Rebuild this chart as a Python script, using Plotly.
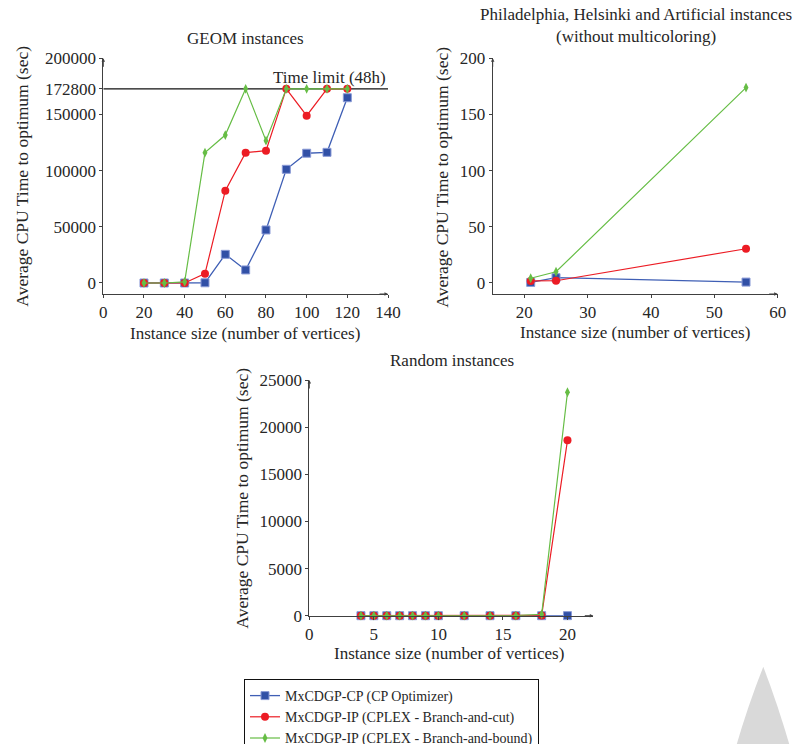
import plotly.graph_objects as go

# ---------------- data ----------------
geom_x = [20, 30, 40, 50, 60, 70, 80, 90, 100, 110, 120]
geom_cp = [0, 0, 0, 200, 25500, 11600, 47200, 101200, 115500, 116300, 164900]
geom_bc = [0, 0, 0, 8300, 82200, 116000, 117800, 172800, 148900, 172800, 172800]
geom_bb = [0, 0, 1000, 116000, 131700, 172800, 126700, 172800, 172800, 172800, 172800]

phil_x = [21, 25, 55]
phil_cp = [0.5, 4.7, 0.8]
phil_bc = [1.8, 2.0, 30.5]
phil_bb = [4.2, 10.0, 173.9]

rand_x = [4, 5, 6, 7, 8, 9, 10, 12, 14, 16, 18, 20]
rand_cp = [0, 0, 0, 0, 0, 0, 0, 0, 0, 0, 0, 5]
rand_bc = [0, 0, 0, 0, 0, 0, 0, 0, 0, 0, 30, 18600]
rand_bb = [0, 0, 0, 0, 0, 0, 0, 0, 0, 0, 150, 23700]

time_limit = 172800

series_names = [
    "MxCDGP-CP (CP Optimizer)",
    "MxCDGP-IP (CPLEX - Branch-and-cut)",
    "MxCDGP-IP (CPLEX - Branch-and-bound)",
]

geom_yticks = [0, 50000, 100000, 150000, 172800, 200000]
geom_xticks = [0, 20, 40, 60, 80, 100, 120, 140]
phil_yticks = [0, 50, 100, 150, 200]
phil_xticks = [20, 30, 40, 50, 60]
rand_yticks = [0, 5000, 10000, 15000, 20000, 25000]
rand_xticks = [0, 5, 10, 15, 20]

# ---------------- styles ----------------
# figure is a bit taller than the 744px window so the legend can run past the
# bottom edge (as in the reference) without plotly pushing the margins
W, H = 797, 768
FONT = ("'Liberation Serif', 'DejaVu Serif', Tinos, 'Noto Serif', 'Times New Roman', "
        "FreeSerif, 'Nimbus Roman', serif")
TXT = "#262626"
AX = "#404040"
styles = [
    dict(line=dict(color="#3f5fb5", width=1.3),
         marker=dict(symbol="square", size=8, color="#3150a6",
                     line=dict(color="#8a9ad6", width=1))),
    dict(line=dict(color="#ec1c24", width=1.2),
         marker=dict(symbol="circle", size=8, color="#ec1c24",
                     line=dict(color="#ec1c24", width=0))),
    dict(line=dict(color="#66bd45", width=1.2),
         marker=dict(symbol="diamond-tall", size=7, color="#66bd45",
                     line=dict(color="#66bd45", width=0))),
]


def px(x):
    return x / W


def py(y):
    return 1 - y / H


fig = go.Figure()

panels = [
    ("x", "y", geom_x, [geom_cp, geom_bc, geom_bb], True),
    ("x2", "y2", phil_x, [phil_cp, phil_bc, phil_bb], False),
    ("x3", "y3", rand_x, [rand_cp, rand_bc, rand_bb], False),
]
for xa, ya, xs, ys_list, show in panels:
    for i, ys in enumerate(ys_list):
        st = styles[i]
        fig.add_trace(go.Scatter(
            x=xs, y=ys, mode="lines+markers", name=series_names[i],
            legendgroup=series_names[i], showlegend=show,
            line=st["line"], marker=st["marker"], cliponaxis=False,
            xaxis=xa, yaxis=ya,
        ))

axis_common = dict(
    showgrid=False, zeroline=False, showline=True, linecolor=AX, linewidth=1,
    ticks="outside", ticklen=3, tickcolor=AX, tickwidth=1,
    tickfont=dict(family=FONT, size=17, color=TXT), automargin=False,
)

gx_dom = [px(103.3), px(388)]
py_dom = [py(294), py(58.3)]
fig.update_layout(
    xaxis=dict(domain=gx_dom, range=[0, 140], tickvals=geom_xticks,
               anchor="y", **axis_common),
    yaxis=dict(domain=py_dom, range=[-9800, 200000], tickvals=geom_yticks,
               ticktext=[str(v) for v in geom_yticks], anchor="x", **axis_common),
    xaxis2=dict(domain=[px(492.7), px(777.7)], range=[15, 60], tickvals=phil_xticks,
                anchor="y2", **axis_common),
    yaxis2=dict(domain=py_dom, range=[-9.8, 200], tickvals=phil_yticks,
                anchor="x2", **axis_common),
    xaxis3=dict(domain=[px(309.3), px(593.3)], range=[0, 22], tickvals=rand_xticks,
                anchor="y3", **axis_common),
    yaxis3=dict(domain=[py(615.7), py(380)], range=[0, 25000], tickvals=rand_yticks,
                ticktext=[str(v) for v in rand_yticks], anchor="x3", **axis_common),
)

ann = []
# axis arrows
for xa, ya, xr, yr in [("x", "y", [0, 140], [-9800, 200000]),
                       ("x2", "y2", [15, 60], [-9.8, 200]),
                       ("x3", "y3", [0, 22], [0, 25000])]:
    ann.append(dict(x=xr[1], y=yr[0], xref=xa, yref=ya, ax=-10, ay=0, text="",
                    showarrow=True, arrowhead=2, arrowsize=0.7, arrowwidth=1,
                    arrowcolor=AX))
    ann.append(dict(x=xr[0], y=yr[1], xref=xa, yref=ya, ax=0, ay=10, text="",
                    showarrow=True, arrowhead=2, arrowsize=0.7, arrowwidth=1,
                    arrowcolor=AX))

# time limit label
ann.append(dict(x=140, y=time_limit, xref="x", yref="y", text="Time limit (48h)",
                showarrow=False, xanchor="right", yanchor="bottom", yshift=0,
                font=dict(family=FONT, size=17, color=TXT)))


def text(x, y, s, size=17, angle=0):
    ann.append(dict(x=px(x), y=py(y), xref="paper", yref="paper", text=s,
                    showarrow=False, xanchor="center", yanchor="middle",
                    textangle=angle, font=dict(family=FONT, size=size, color=TXT)))


text(245.8, 38.3, "GEOM instances")
text(635.5, 25, "Philadelphia, Helsinki and Artificial instances<br>(without multicoloring)")
text(452, 360, "Random instances")
text(245, 333, "Instance size (number of vertices)")
text(634.5, 332.5, "Instance size (number of vertices)")
text(449, 653.5, "Instance size (number of vertices)")
text(21.7, 176, "Average CPU Time to optimum (sec)", size=17.5, angle=-90)
text(441.7, 177, "Average CPU Time to optimum (sec)", size=17.5, angle=-90)
text(241.7, 498, "Average CPU Time to optimum (sec)", size=17.5, angle=-90)

shapes = [
    dict(type="line", xref="x", yref="y", x0=0, x1=140, y0=time_limit, y1=time_limit,
         line=dict(color="#111111", width=1.2), layer="below"),
    dict(type="path", xref="paper", yref="paper",
         path="M {a},{b} Q {c},{d} {e},{f} L {g},{h} Q {i},{j} {a},{b} Z".format(
             a=px(763.3), b=py(666.7), c=px(748), d=py(705), e=px(735), f=py(750),
             g=px(791), h=py(750), i=px(778), j=py(705)),
         fillcolor="#d9d9d9", line=dict(width=0), layer="below"),
]

fig.update_layout(
    width=W, height=H, margin=dict(l=0, r=0, t=0, b=0),
    paper_bgcolor="white", plot_bgcolor="white",
    annotations=ann, shapes=shapes,
    font=dict(family=FONT, size=17, color=TXT),
    legend=dict(x=px(244), y=py(679), xanchor="left", yanchor="top",
                bordercolor="#111111", borderwidth=1, bgcolor="white",
                font=dict(family=FONT, size=14, color=TXT),
                tracegroupgap=0, itemwidth=30),
    showlegend=True,
)

fig.write_html(
    "out.html",
    config={"displayModeBar": False},
    post_script="document.body.style.margin='0';document.body.style.overflow='hidden';",
)
